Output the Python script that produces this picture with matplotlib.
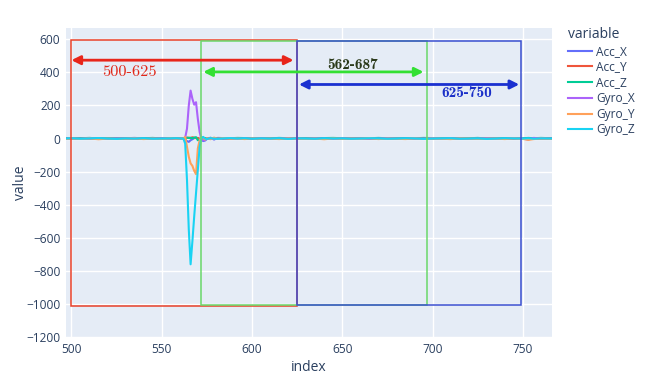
import matplotlib.pyplot as plt
from matplotlib.patches import Rectangle
from matplotlib.lines import Line2D

# sample index (dense around the spike)
idx = [496, 500, 505, 510, 515, 520, 525, 530, 535, 540, 545, 550, 555, 558, 561,
       562, 563, 564, 565, 566, 567, 568, 569, 570, 571, 572, 573, 574, 575,
       577, 579, 581, 584, 588, 592, 596,
       600, 605, 610, 615, 620, 625, 630, 635, 640, 645, 650, 655, 660, 665, 670,
       675, 680, 685, 690, 695, 700, 705, 710, 715, 720, 725, 730, 735, 740, 745, 750,
       753, 756, 760, 766]

acc_x = [2, 1, 3, 0, 2, -1, 1, 2, 4, 1, 3, 2, 0, 2, 1,
         0, -5, -15, -20, -10, -4, 2, 5, 3, -2, -8, -15, -12, -3,
         5, -6, 4, 3, -2, 2, 1,
         2, 0, 3, 1, 2, 0, 1, 3, 2, 0, 1, 2, 3, 1, 0,
         2, 1, 3, 0, 2, 1, 2, 0, 3, 1, 2, 0, 1, 2, 3, 1,
         4, 2, 1, 2]
acc_y = [-2, 0, -1, 1, -2, 0, -1, 1, 0, -2, 1, -1, 0, -1, 0,
         0, 2, 4, 6, 3, 8, 5, 2, 4, -2, -4, 2, 3, 0,
         -2, 1, 3, -1, 0, 2, -1,
         0, -2, 1, 0, -1, 1, 0, -2, 1, 0, -1, 0, 2, -1, 0,
         1, -1, 0, 2, -1, 0, 1, -2, 0, 1, -1, 0, 1, 0, -1, 0,
         -3, 1, 0, -1]
acc_z = [1, 3, 2, 4, 1, 3, 2, 1, 3, 2, 4, 1, 2, 3, 2,
         2, 4, 6, 3, 5, 2, 6, 8, -10, -6, 4, 2, 3, 1,
         4, 2, 3, 1, 2, 4, 3,
         2, 3, 1, 4, 2, 3, 2, 1, 3, 4, 2, 1, 3, 2, 4,
         2, 3, 1, 2, 4, 3, 2, 1, 3, 2, 4, 1, 3, 2, 1, 2,
         3, 2, 4, 2]
gyro_x = [0, 1, -1, 2, 0, -1, 1, 0, 2, -1, 0, 1, -1, 0, 1,
          0, 5, 60, 200, 290, 240, 205, 220, 120, 40, -5, -10, -5, 0,
          2, -3, 1, 0, 2, -1, 1,
          0, 1, -1, 0, 2, 0, -1, 1, 0, -2, 1, 0, 1, -1, 0,
          2, 0, -1, 1, 0, 2, -1, 0, 1, -1, 0, 2, 0, -1, 1, 0,
          -6, 4, 1, 0]
gyro_y = [-3, 0, -2, 1, -4, 0, -2, -1, 1, -3, 0, -2, 1, -1, 0,
          0, 10, -50, -110, -150, -165, -195, -215, -60, -10, 10, 5, -6, 2,
          -4, 6, -2, 3, -1, 0, -3,
          1, -2, 0, -3, 1, -1, -2, 0, -4, 1, -2, 0, -1, 2, -3,
          0, -1, -3, 1, -2, 0, -1, -3, 1, 0, -2, -1, 0, -3, 1, -2,
          -8, -3, 0, -2]
gyro_z = [0, 2, -1, 1, 3, 0, -2, 1, 0, 2, -1, 0, 1, 2, 0,
          0, -30, -250, -550, -760, -620, -470, -330, -190, -50, 5, 10, 0, -3,
          2, 0, -2, 1, 3, 0, 2,
          -1, 1, 0, 2, -2, 1, 0, -1, 2, 0, 1, -1, 0, 2, 1,
          -1, 0, 2, 1, -2, 0, 1, 2, -1, 0, 1, -2, 0, 2, 1, 0,
          2, -1, 1, 0]

series = {'Acc_X': acc_x, 'Acc_Y': acc_y, 'Acc_Z': acc_z,
          'Gyro_X': gyro_x, 'Gyro_Y': gyro_y, 'Gyro_Z': gyro_z}
colors = ['#636EFA', '#EF553B', '#00CC96', '#AB63FA', '#FFA15A', '#19D3F3']

# windows: (start, end, top, bottom)
windows = [(500, 625, 595, -1010), (572, 697, 590, -1005), (625, 749, 590, -1005)]
win_colors = ['#e8412a', '#6ad86a', '#3a4fd0']
arrows = [(500, 623, 474), (573, 695, 403), (626, 748, 327)]
arrow_colors = ['#e8251a', '#33e033', '#1a30d0']
labels = ['500-625', '562-687', '625-750']
label_pos = [(532, 402), (656, 446), (719, 275)]
label_colors = ['#e0281a', '#2b3a1a', '#1a2fc8']
label_fonts = ['cmr10', 'cmb10', 'cmb10']
label_sizes = [11.8, 11, 11]

txt = '#2a3f5f'
plt.rcParams['font.family'] = ['Open Sans', 'DejaVu Sans']

fig = plt.figure(figsize=(6.6, 3.87), dpi=100)
ax = fig.add_axes([0.1, 0.129, 0.736, 0.798])
ax.set_facecolor('#E5ECF6')

for (name, vals), c in zip(series.items(), colors):
    ax.plot(idx, vals, color=c, lw=1.5, label=name, zorder=3)

for (x0, x1, top, bot), c in zip(windows, win_colors):
    ax.add_patch(Rectangle((x0, bot), x1 - x0, top - bot, fill=False,
                           edgecolor=c, lw=1.1, zorder=4))

for (x0, x1, y), c in zip(arrows, arrow_colors):
    ax.annotate('', xy=(x1, y), xytext=(x0, y),
                arrowprops=dict(arrowstyle='<|-|>', color=c, lw=2,
                                mutation_scale=13, shrinkA=0, shrinkB=0),
                zorder=5)

for t, (x, y), c, f, s in zip(labels, label_pos, label_colors, label_fonts, label_sizes):
    ax.text(x, y, t, color=c, fontsize=s, family=f,
            ha='center', va='center', zorder=6)

ax.set_xlim(497, 766)
ax.set_ylim(-1200, 667)
ax.set_xticks(range(500, 751, 50))
ax.set_yticks(range(-1200, 601, 200))
ax.grid(color='white', lw=1, zorder=0)
ax.set_axisbelow(True)
for s in ax.spines.values():
    s.set_visible(False)
ax.tick_params(length=0, labelsize=8.6, colors=txt, pad=4)
ax.set_xlabel('index', fontsize=10, color=txt, labelpad=3)
ax.set_ylabel('value', fontsize=10, color=txt, labelpad=-1)

handles = [Line2D([], [], color=c, lw=1.5) for c in colors]
leg = fig.legend(handles, list(series.keys()), loc='upper left',
                 bbox_to_anchor=(0.845, 0.958), frameon=False,
                 title='variable', fontsize=8.6, title_fontsize=10,
                 handlelength=2.0, labelspacing=0.23, handletextpad=0.3,
                 labelcolor=txt)
leg.get_title().set_color(txt)
leg._legend_box.align = 'left'

fig.savefig('out.png', dpi=100)
